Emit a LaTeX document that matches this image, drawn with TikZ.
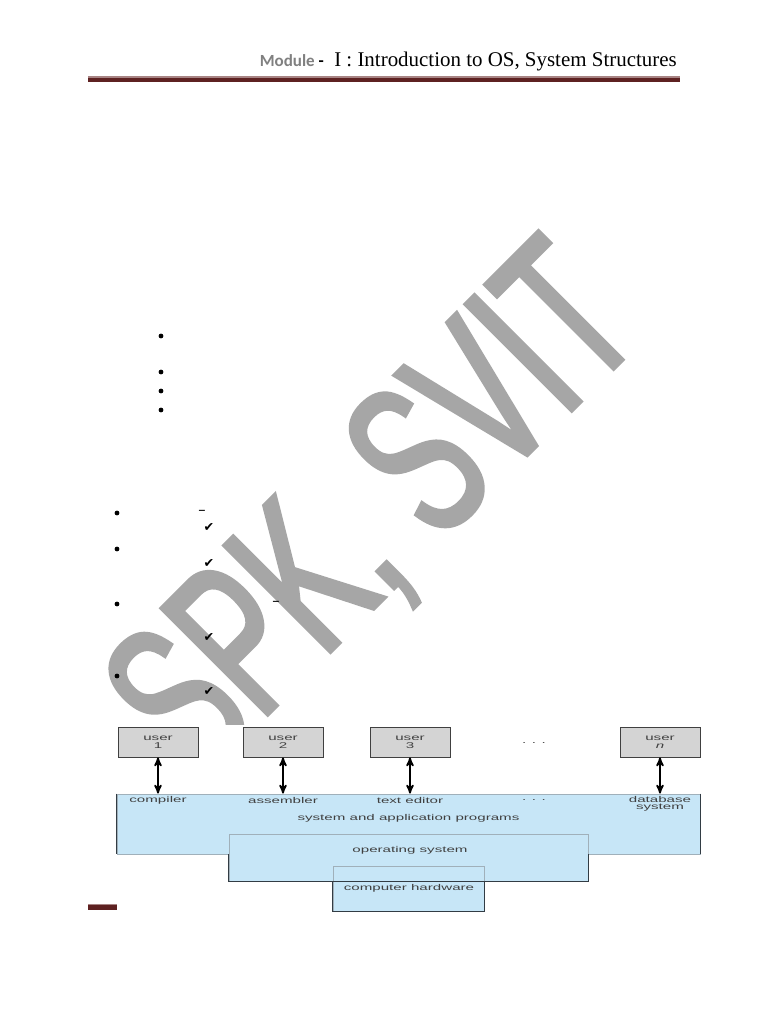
\documentclass[tikz,border=0pt]{standalone}
\usepackage{fontspec}
\setmainfont{Liberation Serif}
\newfontfamily\hdrfont{Carlito}
\newfontfamily\figfont[FakeStretch=1.8]{Liberation Sans}
\newfontfamily\wmfont[FakeStretch=0.61, FakeBold=2]{Liberation Sans}
\newfontfamily\symfont{DejaVu Sans}
\usetikzlibrary{calc}
\usetikzlibrary{arrows}

\definecolor{hdrdark}{RGB}{94,33,33}
\definecolor{hdrlight}{RGB}{168,132,132}
\definecolor{modgray}{RGB}{128,128,128}
\definecolor{wmgray}{RGB}{166,166,166}
\definecolor{usergray}{RGB}{212,212,212}
\definecolor{tierblue}{RGB}{199,230,247}
\definecolor{tieredge}{RGB}{160,176,186}
\definecolor{tierside}{RGB}{50,60,68}
\definecolor{lblgray}{RGB}{64,64,64}

\tikzset{
  userbox/.style={draw=black!75, fill=usergray, line width=.6pt, minimum width=60pt, minimum height=22.5pt,
    inner sep=0pt, align=center, text=lblgray, font=\figfont\fontsize{6.3}{6}\selectfont},
  tier/.style={draw=tieredge, fill=tierblue, line width=.6pt, inner sep=0pt},
  edgedark/.style={tierside, line width=.9pt},
  lbl/.style={text=lblgray, inner sep=0pt, align=center, font=\figfont\fontsize{6.3}{5.4}\selectfont},
  link/.style={<->, >=stealth', line width=1.3pt},
  dashmk/.style={inner sep=0pt, font=\hdrfont\fontsize{12.5}{13}\selectfont},
  checkmk/.style={inner sep=0pt, font=\symfont\fontsize{9.5}{10}\selectfont}
}

\begin{document}
\begin{tikzpicture}[x=0.75pt, y=-0.75pt]
\useasboundingbox[fill=white] (0,0) rectangle (768,1024);
% header
\node[anchor=base east, inner sep=0pt, font=\fontsize{15.7}{18}\selectfont] (title) at (677,66.5)
  {{\hdrfont\bfseries\fontsize{12.75}{14}\selectfont\textcolor{modgray}{Module} -}\ \ I : Introduction to OS, System Structures};
\fill[hdrlight] (88,76) rectangle (680,77.7);
\fill[hdrdark] (88,77.7) rectangle (680,81.7);

% watermark
\node[text=wmgray, font=\wmfont\fontsize{163.5}{163.5}\selectfont, rotate=45, anchor=base, inner sep=0pt] (wm) at (422,560) {SPK, SVIT};

% bullets, dashes, ticks
\foreach \y in {336,372,391,410} \fill (161,\y) circle[radius=1.8pt];
\foreach \y in {513,549,604,676} \fill (117,\y) circle[radius=1.8pt];
\node[dashmk] (dash1) at (202,513) {–};
\node[dashmk] (dash2) at (276,604) {–};
\foreach \y [count=\i] in {527,563,637,691}
  \node[checkmk] (tick\i) at (209,\y) {✔};

% figure (white ground hides the watermark)
\fill[white] (110,725) rectangle (712,916);
\fill[hdrlight] (88,903.5) rectangle (117,905);
\fill[hdrdark] (88,905) rectangle (117,909.5);
\node[tier, minimum width=437.25pt, minimum height=45pt] (apps) at (408.5,824) {};
\node[tier, minimum width=269.25pt, minimum height=35.25pt] (os) at (408.5,857.5) {};
\node[tier, minimum width=113.25pt, minimum height=33.75pt] (hw) at (408.5,888.5) {};
\draw[edgedark] (apps.north west) -- (apps.south west) (apps.north east) -- (apps.south east);
\draw[edgedark] (os.west |- apps.south) |- (os.south east) -- (os.east |- apps.south);
\draw[edgedark] (hw.west |- os.south) |- (hw.south east) -- (hw.east |- os.south);
\node[lbl] (sysprog) at (408.5,818) {system and application programs};
\node[lbl] (oslbl) at (410,850) {operating system};
\node[lbl] (hwlbl) at (409,888.5) {computer hardware};

% users
\foreach \x/\n/\k/\tool/\ty in {158/u1/1/compiler/800, 283/u2/2/assembler/800, 410/u3/3/text editor/800, 660/un/\textit{n}/{database\\system}/803.5} {
  \node[userbox] (\n) at (\x,742) {user\\\k};
  \node[lbl] (\n tool) at (\x,\ty) {\tool};
  \draw[link] (\n.south) -- (\n.south |- apps.north);
}
\node[lbl] (udots) at (534,743) {. . .};
\node[lbl] (tdots) at (534,800) {. . .};
\end{tikzpicture}
\end{document}
